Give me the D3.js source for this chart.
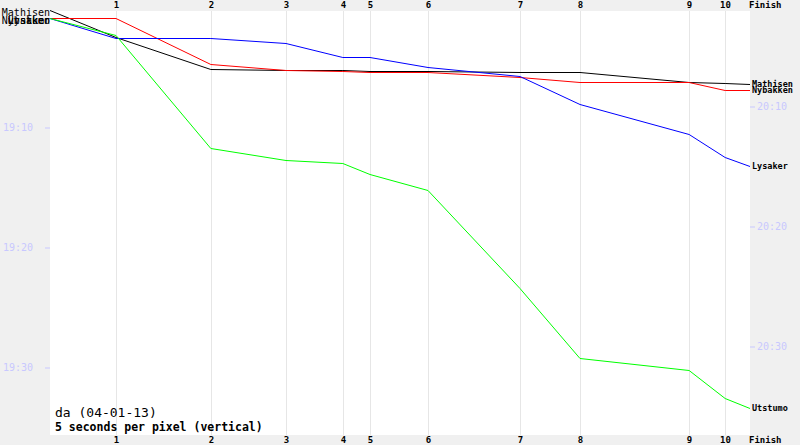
<!DOCTYPE html>
<html><head><meta charset="utf-8">
<script src="https://cdn.jsdelivr.net/npm/d3@7"></script>
<style>
html,body{margin:0;padding:0;background:#f0f0f0;}
svg{display:block;}
text{font-family:"DejaVu Sans Mono","Liberation Mono",monospace;}
</style></head>
<body>
<script>
// Controls and reference cumulative times (seconds) that set the horizontal spacing
const controls = ["1","2","3","4","5","6","7","8","9","10","Finish"];
const refTimes = [0, 231, 563, 826, 1025, 1120, 1323, 1645, 1855, 2237, 2363, 2450];

// Runners (values: seconds after 19:00 on the left time axis, start + each control)
const runners = ["Mathisen","Nybakken","Lysaker","Utstumo"];
const colors = ["#000000","#ff0000","#0000ff","#00ff00"];
const mathisen = [15, 150, 310, 315, 315, 320, 320, 325, 325, 375, 380, 385];
const nybakken = [55, 55, 285, 315, 320, 325, 325, 350, 375, 375, 415, 415];
const lysaker  = [55, 155, 155, 180, 250, 250, 300, 345, 485, 635, 750, 795];
const utstumo  = [55, 140, 705, 765, 780, 835, 915, 1405, 1755, 1815, 1955, 2005];
const series = [mathisen, nybakken, lysaker, utstumo];

const leftTicks = ["19:10","19:20","19:30"];
const rightTicks = ["20:10","20:20","20:30"];
const rightOffset = 3705; // right axis time = left axis time + offset

const W = 800, H = 445;
const plot = {l:50, r:750, t:11, b:435};

const svg = d3.select("body").append("svg").attr("width",W).attr("height",H);
svg.append("rect").attr("width",W).attr("height",H).attr("fill","#f0f0f0");
svg.append("rect").attr("x",plot.l).attr("y",plot.t).attr("width",plot.r-plot.l).attr("height",plot.b-plot.t).attr("fill","#ffffff");

const x = d3.scaleLinear().domain([0, refTimes[refTimes.length-1]]).range([plot.l, plot.r]);
const y = d3.scaleLinear().domain([20, 20 + (plot.b-plot.t)*5]).range([plot.t, plot.b]);
const toSec = s => { const [h,m] = s.split(":").map(Number); return (h-19)*3600 + m*60; };

// vertical grid lines
svg.append("g").selectAll("line").data(refTimes.slice(1, -1)).join("line")
  .attr("x1", d=>Math.round(x(d))+0.5).attr("x2", d=>Math.round(x(d))+0.5)
  .attr("y1", plot.t).attr("y2", plot.b)
  .attr("stroke","#e6e6e6").attr("stroke-width",1);

// top & bottom control labels
const ctrlScale = d3.scaleOrdinal().domain(controls).range(refTimes.slice(1).map(x));
[5, 440].forEach(yy=>{
  svg.append("g").selectAll("text").data(controls).join("text")
    .attr("x", d=> d==="Finish" ? plot.r - 1 : Math.round(ctrlScale(d)) + 0.5)
    .attr("y", yy).attr("dy","0.35em")
    .attr("text-anchor", d=> d==="Finish" ? "start" : "middle")
    .attr("font-size", 9).attr("font-weight","bold").attr("fill","#000")
    .text(d=>d);
});

// left axis
const leftAxis = d3.axisLeft(y).tickValues(leftTicks.map(toSec)).tickFormat((d,i)=>leftTicks[i]).tickSize(5).tickPadding(12);
const gL = svg.append("g").attr("transform",`translate(${plot.l},0.5)`).call(leftAxis);
gL.select(".domain").remove();
gL.selectAll("line").attr("stroke","#c8c8ff");
gL.selectAll("text").attr("fill","#c8c8ff").attr("font-size",10).attr("font-family","'DejaVu Sans Mono',monospace");

// right axis
const rightAxis = d3.axisRight(y).tickValues(rightTicks.map(s=>toSec(s)-rightOffset)).tickFormat((d,i)=>rightTicks[i]).tickSize(5).tickPadding(2);
const gR = svg.append("g").attr("transform",`translate(${plot.r},0.5)`).call(rightAxis);
gR.select(".domain").remove();
gR.selectAll("line").attr("stroke","#c8c8ff");
gR.selectAll("text").attr("fill","#c8c8ff").attr("font-size",10).attr("font-family","'DejaVu Sans Mono',monospace");

// lines
const line = d3.line().x((d,i)=>x(refTimes[i])).y(d=>Math.round(y(d))+0.5);
series.forEach((s,k)=>{
  svg.append("path").datum(s).attr("d", line).attr("fill","none")
    .attr("stroke", colors[k]).attr("stroke-width",1);
});

// start labels (left)
series.forEach((s,k)=>{
  svg.append("text").attr("x", plot.l).attr("y", Math.max(y(s[0]), 8) + 2).attr("dy","0.35em")
    .attr("text-anchor","end").attr("font-size",10).attr("fill","#000").text(runners[k]);
});
// finish labels (right)
series.forEach((s,k)=>{
  svg.append("text").attr("x", plot.r + 2).attr("y", y(s[s.length-1])).attr("dy","0.35em")
    .attr("font-size",8.5).attr("font-weight","bold").attr("fill","#000").text(runners[k]);
});

// caption
svg.append("text").attr("x",55).attr("y",412).attr("dy","0.35em").attr("font-size",13).attr("fill","#000").text("da (04-01-13)");
svg.append("text").attr("x",55).attr("y",427).attr("dy","0.35em").attr("font-size",11.5).attr("font-weight","bold").attr("fill","#000").text("5 seconds per pixel (vertical)");
</script>
</body></html>
